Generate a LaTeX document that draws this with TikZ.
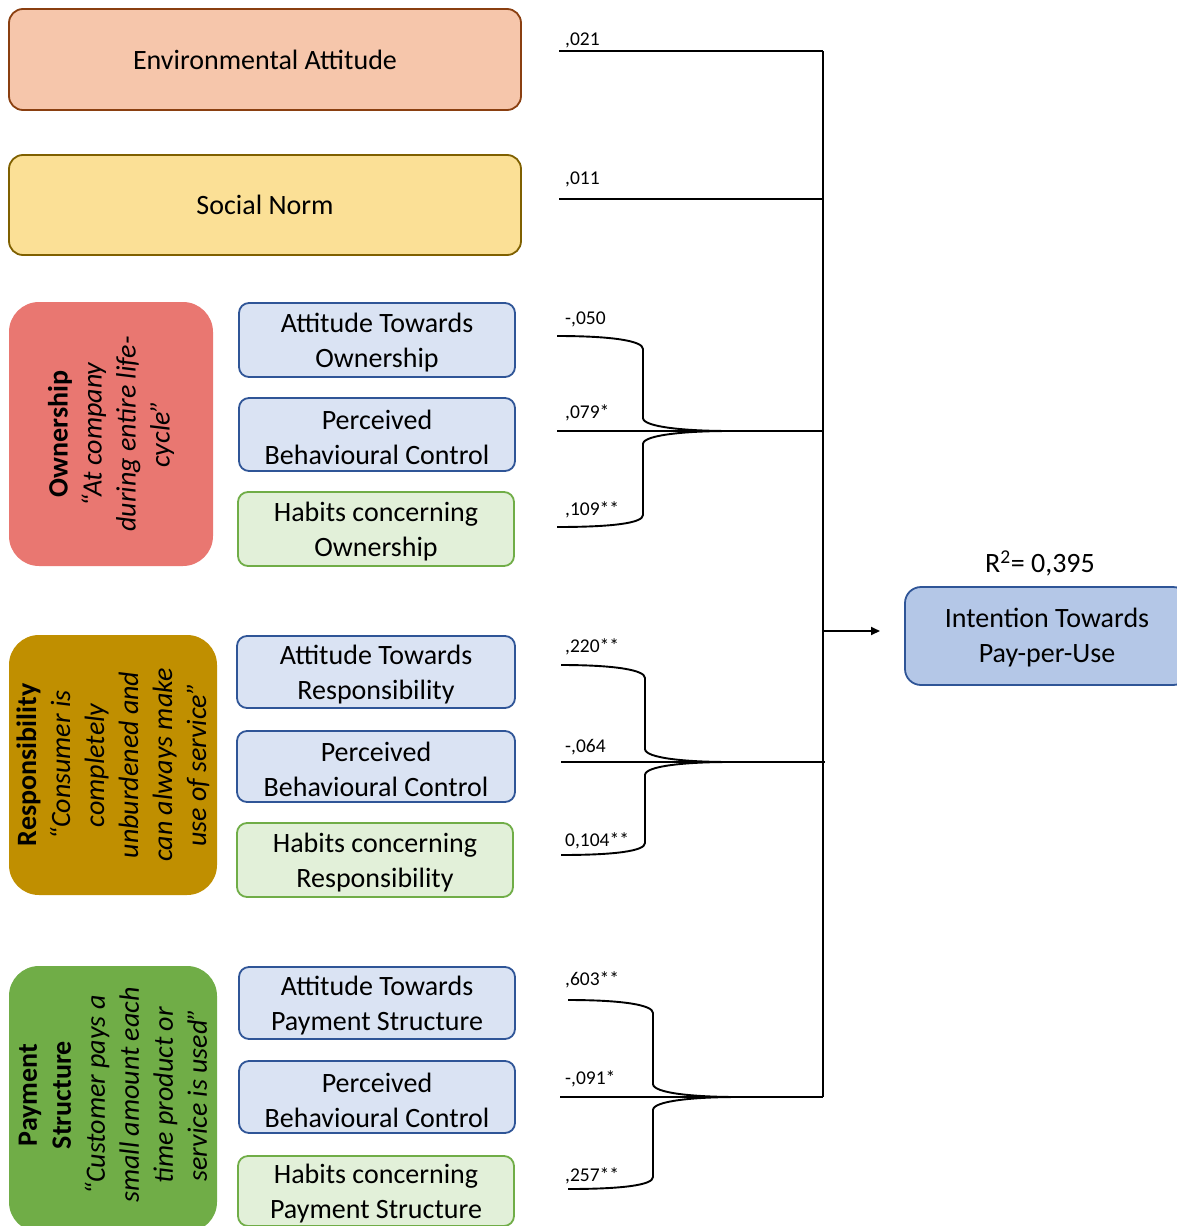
\documentclass[tikz,border=0pt]{standalone}
\usepackage{fontspec}
\setmainfont{Carlito}
\usetikzlibrary{arrows.meta}

\definecolor{envfill}{HTML}{F6C6AB}
\definecolor{envline}{HTML}{8A3F10}
\definecolor{socfill}{HTML}{FBE096}
\definecolor{socline}{HTML}{7F6000}
\definecolor{ownfill}{HTML}{E97771}
\definecolor{respfill}{HTML}{C08F00}
\definecolor{payfill}{HTML}{70AD47}
\definecolor{attfill}{HTML}{DAE3F3}
\definecolor{attline}{HTML}{2F5597}
\definecolor{habfill}{HTML}{E2F0D9}
\definecolor{habline}{HTML}{70AD47}
\definecolor{intfill}{HTML}{B4C7E7}

% one group brace: start x, vertical x, tip x, top y, middle y, bottom y
\newcommand\grpbrace[6]{%
  \draw[conn] (#1,#4) .. controls ({#2-30},#4) and (#2,{#4+5}) .. (#2,{#4+13})
    -- (#2,{#5-13}) .. controls (#2,{#5-4}) and ({#3-45},#5) .. (#3,#5)
    .. controls ({#3-45},#5) and (#2,{#5+4}) .. (#2,{#5+13})
    -- (#2,{#6-12}) .. controls (#2,{#6-4}) and ({#2-30},#6) .. (#1,#6);}

\begin{document}
\begin{tikzpicture}[x=1pt,y=-1pt,
  box/.style={draw, line width=1.8pt, rounded corners=14pt, align=center,
    inner sep=0pt, outer sep=0pt, font=\fontsize{28}{35}\selectfont},
  boxtext/.style={align=center, inner sep=0pt, yshift=-3pt,
    font=\fontsize{28}{35}\selectfont},
  envbox/.style={box, fill=envfill, draw=envline},
  socbox/.style={box, fill=socfill, draw=socline},
  attbox/.style={box, rounded corners=10pt, fill=attfill, draw=attline},
  habbox/.style={box, rounded corners=10pt, fill=habfill, draw=habline},
  intbox/.style={box, rounded corners=16pt, fill=intfill, draw=attline},
  dimbox/.style={draw=none, rounded corners=30pt, inner sep=0pt, outer sep=0pt},
  dimtext/.style={rotate=90, align=center, inner sep=0pt, font=\fontsize{28}{34}\selectfont},
  coef/.style={anchor=base west, inner sep=0pt, font=\fontsize{19.5}{22}\selectfont},
  conn/.style={line width=1.9pt, black}]

\useasboundingbox (0,0) rectangle (1176,1226);

% predictor boxes
\node[envbox, minimum width=512, minimum height=101] (env) at (265,59.5) {Environmental Attitude};
\node[socbox, minimum width=512, minimum height=100] (soc) at (265,205) {Social Norm};

% dimension boxes with rotated descriptions
\node[dimbox, fill=ownfill, minimum width=204, minimum height=264] (own) at (111,434) {};
\node[dimtext] (ownt) at (own.center) {\textbf{Ownership}\\\textit{“At company}\\\textit{during entire life-}\\\textit{cycle”}};

\node[dimbox, fill=respfill, minimum width=208, minimum height=260] (resp) at (113,765) {};
\node[dimtext] (respt) at (resp.center) {\textbf{Responsibility}\\\textit{“Consumer is}\\\textit{completely}\\\textit{unburdened and}\\\textit{can always make}\\\textit{use of service”}};

\node[dimbox, fill=payfill, minimum width=208, minimum height=266] (pay) at (113,1099) {};
\node[dimtext] (payt) at (113,1095) {\textbf{Payment}\\\textbf{Structure}\\\textit{“Customer pays a}\\\textit{small amount each}\\\textit{time product or}\\\textit{service is used”}};

% construct boxes
\node[attbox, minimum width=276, minimum height=74, label={[boxtext]center:{Attitude Towards\\Ownership}}] (ato) at (377,340) {};
\node[attbox, minimum width=276, minimum height=73, label={[boxtext]center:{Perceived\\Behavioural Control}}] (pbo) at (377,434.5) {};
\node[habbox, minimum width=276, minimum height=74, label={[boxtext]center:{Habits concerning\\Ownership}}] (hbo) at (376,529) {};

\node[attbox, minimum width=278, minimum height=72, label={[boxtext]center:{Attitude Towards\\Responsibility}}] (atr) at (376,672) {};
\node[attbox, minimum width=278, minimum height=71, label={[boxtext]center:{Perceived\\Behavioural Control}}] (pbr) at (376,766.5) {};
\node[habbox, minimum width=276, minimum height=74, label={[boxtext]center:{Habits concerning\\Responsibility}}] (hbr) at (375,860) {};

\node[attbox, minimum width=276, minimum height=72, label={[boxtext]center:{Attitude Towards\\Payment Structure}}] (atp) at (377,1003) {};
\node[attbox, minimum width=276, minimum height=72, label={[boxtext]center:{Perceived\\Behavioural Control}}] (pbp) at (377,1097) {};
\node[habbox, minimum width=276, minimum height=70, label={[boxtext]center:{Habits concerning\\Payment Structure}}] (hbp) at (376,1191) {};

% outcome
\node[intbox, minimum width=284, minimum height=98, label={[boxtext, yshift=1pt]center:{Intention Towards\\Pay-per-Use}}] (int) at (1047,636) {};
\node[font=\fontsize{28}{34}\selectfont, inner sep=0pt] (r2) at (1040,563) {R\textsuperscript{2}= 0,395};

% collecting bus
\coordinate (bustop) at (823,51);
\coordinate (busbot) at (823,1097);
\coordinate (busout) at (823,631);
\coordinate (arrend) at (880,631);
\draw[conn] (bustop) -- (busbot);
\draw[conn, -{Triangle[length=9pt,width=8pt]}] (busout) -- (arrend);

% direct paths
\coordinate (envs) at (559,51);
\coordinate (socs) at (559,199);
\coordinate (socb) at (823,199);
\draw[conn] (envs) -- (bustop);
\draw[conn] (socs) -- (socb);

% grouped paths
\coordinate (owns) at (557,431);  \coordinate (ownb) at (823,431);
\coordinate (resps) at (561,762); \coordinate (respb) at (825,762);
\coordinate (pays) at (560,1097);
\draw[conn] (owns) -- (ownb);
\draw[conn] (resps) -- (respb);
\draw[conn] (pays) -- (busbot);
\grpbrace{557}{643}{730}{336}{431}{527}
\grpbrace{561}{645}{730}{665}{762}{855}
\grpbrace{568}{653}{738}{1000}{1097}{1189}

% path coefficients
\node[coef] (c1) at (565,45.5) {,021};
\node[coef] (c2) at (565,184.5) {,011};
\node[coef] (c3) at (565,324.5) {-,050};
\node[coef] (c4) at (565,418.5) {,079*};
\node[coef] (c5) at (565,515.5) {,109**};
\node[coef] (c6) at (565,652.5) {,220**};
\node[coef] (c7) at (565,752.5) {-,064};
\node[coef] (c8) at (565,846.5) {0,104**};
\node[coef] (c9) at (565,985.5) {,603**};
\node[coef] (c10) at (565,1084.5) {-,091*};
\node[coef] (c11) at (565,1181.5) {,257**};
\end{tikzpicture}
\end{document}
